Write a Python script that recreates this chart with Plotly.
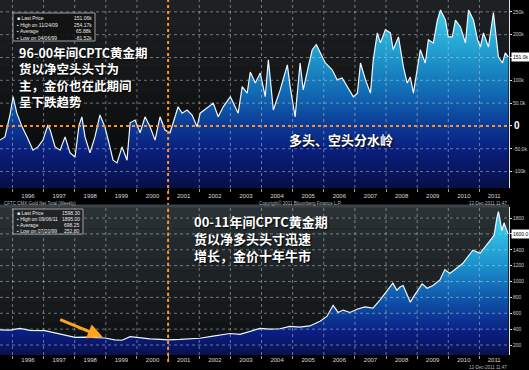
import plotly.graph_objects as go

# ---------------- data ----------------
# Top panel: CFTC gold net position (thousand contracts), decimal-year dates
cftc_t = [1995.60, 1995.76, 1995.92, 1996.02, 1996.14, 1996.31, 1996.47, 1996.66, 1996.82, 1996.98,
          1997.14, 1997.21, 1997.37, 1997.53, 1997.69, 1997.85, 1998.01, 1998.14, 1998.23, 1998.33,
          1998.49, 1998.65, 1998.81, 1998.97, 1999.13, 1999.23, 1999.36, 1999.52, 1999.68, 1999.78,
          1999.94, 2000.10, 2000.26, 2000.42, 2000.58, 2000.74, 2000.90, 2001.06, 2001.19, 2001.32,
          2001.45, 2001.61, 2001.77, 2001.93, 2002.03, 2002.29, 2002.45, 2002.61, 2002.77, 2003.00,
          2003.15, 2003.25, 2003.38, 2003.54, 2003.64, 2003.80, 2003.96, 2004.12, 2004.22, 2004.38,
          2004.60, 2004.83, 2004.92, 2005.08, 2005.24, 2005.34, 2005.50, 2005.63, 2005.76, 2005.89,
          2006.05, 2006.27, 2006.43, 2006.59, 2006.76, 2006.95, 2007.08, 2007.18, 2007.34, 2007.50,
          2007.59, 2007.72, 2007.82, 2007.98, 2008.14, 2008.23, 2008.40, 2008.56, 2008.68, 2008.78,
          2008.88, 2009.01, 2009.10, 2009.26, 2009.36, 2009.52, 2009.65, 2009.75, 2009.91, 2010.00,
          2010.13, 2010.23, 2010.39, 2010.55, 2010.65, 2010.81, 2010.94, 2011.03, 2011.13, 2011.29,
          2011.45, 2011.61, 2011.74, 2011.83, 2011.93]
cftc_v = [-31, -24, 24, 64, 28, -2, -24, -53, -46, -31,
          2, -9, -46, -53, -24, -59, -68, 2, 20, -24,
          -59, -24, 24, -2, -46, -75, -81, -46, -75, 7,
          13, -15, 20, -2, -31, 20, -9, -15, 13, 42,
          28, 35, 24, -2, 28, 42, 50, 20, 42, 64,
          42, 28, 86, 72, 118, 94, 116, 64, 145, 35,
          79, 134, 86, 20, 138, 79, 129, 167, 178, 160,
          138, 123, 101, 105, 86, 64, 72, 138, 101, 72,
          145, 204, 182, 211, 204, 167, 195, 129, 94, 107,
          72, 129, 167, 138, 189, 182, 232, 254, 232, 195,
          195, 232, 217, 182, 254, 232, 189, 173, 204, 173,
          248, 151, 138, 160, 151]

# Bottom panel: gold price (USD/oz)
gold_t = [1995.60, 1995.92, 1996.24, 1996.56, 1997.04, 1997.37, 1997.69, 1998.01, 1998.33, 1998.65,
          1998.97, 1999.29, 1999.52, 1999.78, 2000.10, 2000.42, 2000.74, 2001.00, 2001.38, 2001.70,
          2002.02, 2002.44, 2002.99, 2003.31, 2003.63, 2003.95, 2004.27, 2004.59, 2004.91, 2005.23,
          2005.55, 2005.88, 2006.10, 2006.30, 2006.46, 2006.62, 2006.84, 2007.07, 2007.32, 2007.58,
          2007.81, 2007.97, 2008.13, 2008.22, 2008.35, 2008.45, 2008.55, 2008.67, 2008.78, 2008.87,
          2009.03, 2009.16, 2009.32, 2009.51, 2009.73, 2009.89, 2010.05, 2010.28, 2010.47, 2010.70,
          2010.79, 2011.02, 2011.18, 2011.34, 2011.47, 2011.56, 2011.61, 2011.66, 2011.72, 2011.79,
          2011.85, 2011.92]
gold_v = [390, 388, 410, 385, 380, 350, 330, 295, 300, 290,
          288, 265, 260, 305, 290, 278, 272, 265, 270, 282,
          285, 312, 345, 335, 370, 410, 400, 405, 435, 425,
          440, 500, 560, 700, 610, 640, 610, 650, 680, 665,
          770, 850, 920, 980, 890, 930, 950, 830, 740, 800,
          890, 970, 915, 950, 1020, 1150, 1100, 1170, 1230, 1350,
          1395, 1355, 1440, 1520, 1580, 1800, 1880, 1780, 1640, 1740,
          1680, 1600]

years = list(range(1995, 2012))
year_labels = [str(y) for y in years]
cftc_ticks = [-100, -50, 0, 50, 100, 150, 200, 250]
cftc_ticktext = ["-100k", "-50.0k", "", "50.0k", "100k", "", "200k", "250k"]
gold_ticks = [200, 400, 600, 800, 1000, 1200, 1400, 1600, 1800]
gold_ticktext = ["200", "400", "600", "800", "1000", "1200", "1400", "", "1800"]

text_short = "96-00年间CPTC黄金期<br>货以净空头头寸为<br>主，金价也在此期间<br>呈下跌趋势"
text_divide = "多头、空头分水岭"
text_long = "00-11年间CPTC黄金期<br>货以净多头头寸迅速<br>增长，金价十年牛市"

# ---------------- layout helpers ----------------
W, H = 529, 370
ML, MR, MT, MB = 0, 20, 0, 15
PW, PH = W - ML - MR, H - MT - MB
def px(x): return x / PW
def py(y): return 1 - y / PH

X0, X1 = 1995.60, 2011.95
TOP_RANGE = [-136, 276]
BOT_RANGE = [74, 1939]
label_pos = [(max(y, X0) + min(y + 1, X1)) / 2 for y in years]
grid_years = [y for y in years if X0 < y < X1]

fig = go.Figure()

# top panel
fig.add_trace(go.Scatter(x=cftc_t, y=[TOP_RANGE[0]] * len(cftc_t), mode="lines",
                         line=dict(width=0), hoverinfo="skip", showlegend=False,
                         xaxis="x", yaxis="y"))
fig.add_trace(go.Scatter(x=cftc_t, y=cftc_v, mode="lines", fill="tonexty",
                         line=dict(color="#eef8ff", width=1.2),
                         fillgradient=dict(type="vertical", start=TOP_RANGE[0], stop=TOP_RANGE[1],
                                           colorscale=[[0, "#061046"], [0.2, "#0a1e7c"],
                                                       [0.33, "#0b3a96"], [0.5, "#1168b2"],
                                                       [0.7, "#1e98cc"], [1, "#46d6f0"]]),
                         showlegend=False, xaxis="x", yaxis="y"))
# bottom panel
fig.add_trace(go.Scatter(x=gold_t, y=[BOT_RANGE[0]] * len(gold_t), mode="lines",
                         line=dict(width=0), hoverinfo="skip", showlegend=False,
                         xaxis="x2", yaxis="y2"))
fig.add_trace(go.Scatter(x=gold_t, y=gold_v, mode="lines", fill="tonexty",
                         line=dict(color="#eef8ff", width=1.2),
                         fillgradient=dict(type="vertical", start=BOT_RANGE[0], stop=BOT_RANGE[1],
                                           colorscale=[[0, "#08104e"], [0.15, "#0a1e82"],
                                                       [0.35, "#0e4ea6"], [0.6, "#1a90cc"],
                                                       [0.85, "#34c4e6"], [1, "#4ad8f0"]]),
                         showlegend=False, xaxis="x2", yaxis="y2"))

tickfont = dict(family="Liberation Sans", size=6, color="#d8d8d8")
xcommon = dict(range=[X0, X1], tickmode="array", tickvals=label_pos, ticktext=year_labels,
               ticks="", showgrid=False, zeroline=False, tickfont=tickfont,
               minor=dict(tickmode="array", tickvals=grid_years, ticks="outside",
                          ticklen=3, tickcolor="#9a9a9a", showgrid=False))
yfont = dict(family="Liberation Sans", size=5, color="#cfcfcf")
fig.update_layout(
    width=W, height=H, margin=dict(l=ML, r=MR, t=MT, b=MB),
    paper_bgcolor="#000000", plot_bgcolor="#0b0c0d",
    font=dict(family="Liberation Sans"),
    xaxis=dict(domain=[0, 1], anchor="y", ticklabelstandoff=3, **xcommon),
    xaxis2=dict(domain=[0, 1], anchor="y2", **xcommon),
    yaxis=dict(domain=[py(188), 1], anchor="x", side="right", range=TOP_RANGE,
               tickmode="array", tickvals=cftc_ticks, ticktext=cftc_ticktext,
               ticks="outside", ticklen=2, tickcolor="#dddddd", showgrid=False,
               zeroline=False, showline=True, linecolor="#e6e6e6", linewidth=1,
               tickfont=yfont, automargin=False),
    yaxis2=dict(domain=[0, py(207)], anchor="x2", side="right", range=BOT_RANGE,
                tickmode="array", tickvals=gold_ticks, ticktext=gold_ticktext,
                ticks="outside", ticklen=2, tickcolor="#dddddd", showgrid=False,
                zeroline=False, showline=True, linecolor="#e6e6e6", linewidth=1,
                tickfont=yfont, automargin=False),
)

shapes = []
def hexmix(c1, c2, f):
    a = [int(c1[i:i + 2], 16) for i in (1, 3, 5)]
    b = [int(c2[i:i + 2], 16) for i in (1, 3, 5)]
    return "#" + "".join(f"{round(a[k] + (b[k] - a[k]) * f):02x}" for k in range(3))

NB = 14
for i in range(NB):
    f = i / (NB - 1)
    shapes.append(dict(type="rect", xref="x domain", yref="y domain", x0=0, x1=1,
                       y0=i / NB, y1=(i + 1) / NB, fillcolor=hexmix("#060707", "#1e2124", f),
                       line=dict(width=0), layer="below"))
    shapes.append(dict(type="rect", xref="x2 domain", yref="y2 domain", x0=0, x1=1,
                       y0=i / NB, y1=(i + 1) / NB, fillcolor=hexmix("#0d0f11", "#2a3236", f),
                       line=dict(width=0), layer="below"))

gridc = "rgba(205,210,215,0.5)"
for yv in grid_years:
    shapes.append(dict(type="line", xref="x", yref="y domain", x0=yv, x1=yv, y0=0, y1=1,
                       line=dict(color=gridc, width=1, dash="dot"), layer="above"))
    shapes.append(dict(type="line", xref="x2", yref="y2 domain", x0=yv, x1=yv, y0=0, y1=1,
                       line=dict(color=gridc, width=1, dash="dot"), layer="above"))
for tv in cftc_ticks:
    if tv != 0:
        shapes.append(dict(type="line", xref="x domain", yref="y", x0=0, x1=1, y0=tv, y1=tv,
                           line=dict(color=gridc, width=1, dash="dot"), layer="above"))
for tv in gold_ticks:
    if BOT_RANGE[0] < tv < BOT_RANGE[1]:
        shapes.append(dict(type="line", xref="x2 domain", yref="y2", x0=0, x1=1, y0=tv, y1=tv,
                           line=dict(color=gridc, width=1, dash="dot"), layer="above"))

orange = "#ff8f1f"
shapes.append(dict(type="line", xref="x domain", yref="y", x0=0, x1=1, y0=0, y1=0,
                   line=dict(color=orange, width=2, dash="dot"), layer="above"))
shapes.append(dict(type="line", xref="x", yref="paper", x0=2001.0, x1=2001.0, y0=-0.02, y1=1,
                   line=dict(color=orange, width=2, dash="dot"), layer="above"))
# separator strip between panels
shapes.append(dict(type="rect", xref="paper", yref="paper", x0=0, x1=1, y0=py(207.5), y1=py(204.5),
                   fillcolor="#3c4348", line=dict(width=0), layer="above"))
# legend boxes
shapes.append(dict(type="rect", xref="paper", yref="paper", x0=px(13), x1=px(95), y0=py(41),
                   y1=py(13), fillcolor="rgba(18,18,18,0.85)", line=dict(color="#a0a0a0", width=1),
                   layer="above"))
shapes.append(dict(type="rect", xref="paper", yref="paper", x0=px(13), x1=px(83), y0=py(234),
                   y1=py(209), fillcolor="rgba(30,34,36,0.85)", line=dict(color="#a0a0a0", width=1),
                   layer="above"))
fig.update_layout(shapes=shapes)

ann = []
def cnfont(size):
    return dict(family="Noto Sans CJK SC", size=size, color="white", weight="bold",
                shadow="1px 1px 2px #000")
def txt(s, x, y, font, xanchor="left", yanchor="middle"):
    ann.append(dict(text=s, xref="paper", yref="paper", x=px(x), y=py(y), xanchor=xanchor,
                    yanchor=yanchor, align="left", showarrow=False, font=font, borderpad=0))

txt(text_short, 18, 42, cnfont(12.5), yanchor="top")
txt(text_divide, 288, 140, cnfont(13))
txt(text_long, 193, 211, cnfont(13), yanchor="top")

small = dict(family="Liberation Sans", size=5, color="#e8e8e8")
for (lab, val), yy in zip([("■ Last Price", "151.06k"), ("▪ High on 11/24/09", "254.17k"),
                           ("▪ Average", "65.88k"), ("▪ Low on 04/06/99", "-81.52k")],
                          [17.5, 24.5, 31.5, 38]):
    txt(lab, 15.5, yy, small)
    txt(val, 93, yy, small, xanchor="right")
for (lab, val), yy in zip([("■ Last Price", "1598.30"), ("▪ High on 09/06/11", "1895.00"),
                           ("▪ Average", "698.25"), ("▪ Low on 07/20/99", "252.80")],
                          [213, 219, 225, 231]):
    txt(lab, 15.5, yy, small)
    txt(val, 81, yy, small, xanchor="right")

tiny = dict(family="Liberation Sans", size=4.5, color="#b8b8b8")
txt("Copyright© 2011 Bloomberg Finance L.P.", 300, 203, tiny, xanchor="center")
txt("CFTC CMX Gold Net Total (Weekly)", 3, 203, tiny)
txt("12-Dec-2011 11:47", 508, 203, tiny, xanchor="right")
txt("12-Dec-2011 11:47", 508, 367, tiny, xanchor="right")

# zero label and last-value boxes
ann.append(dict(text="0", xref="paper", yref="y", x=px(512), y=0, xanchor="left",
                yanchor="middle", showarrow=False,
                font=dict(family="Liberation Sans", size=10, color="white", weight="bold")))
ann.append(dict(text=f"{cftc_v[-1]:.1f}k", xref="paper", yref="y", x=px(510.5), y=cftc_v[-1],
                xanchor="left", yanchor="middle", showarrow=False, bgcolor="#ffffff",
                borderpad=1, font=dict(family="Liberation Sans", size=5, color="#000")))
ann.append(dict(text=f"{gold_v[-1]:.1f}", xref="paper", yref="y2", x=px(510.5), y=gold_v[-1],
                xanchor="left", yanchor="middle", showarrow=False, bgcolor="#ffffff",
                borderpad=1, font=dict(family="Liberation Sans", size=5, color="#000")))
# orange arrow
ann.append(dict(text="", xref="x2", yref="y2", x=1998.9, y=300, ax=-44, ay=-18,
                showarrow=True, arrowhead=2, arrowsize=1, arrowwidth=3, arrowcolor="#ffa41c"))
fig.update_layout(annotations=ann)

fig.write_html("out.html", config={"displayModeBar": False},
               post_script="document.body.style.margin='0px';document.body.style.padding='0px';"
                           "document.body.style.overflow='hidden';")
